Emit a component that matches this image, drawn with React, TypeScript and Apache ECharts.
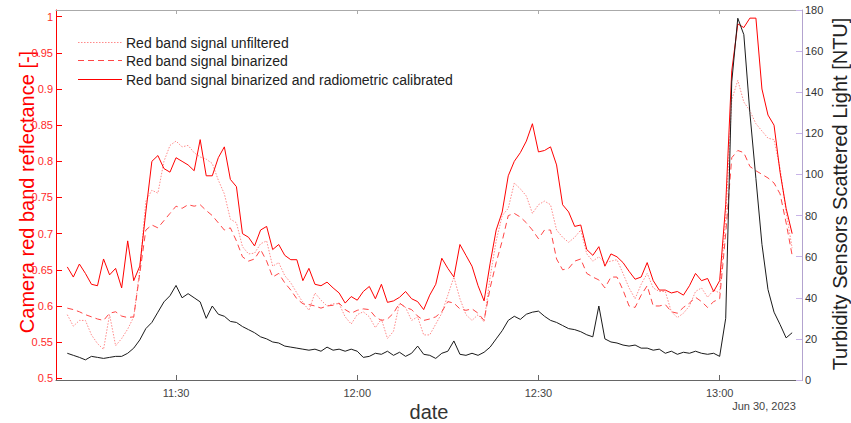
import React, { useEffect, useRef } from "react";
import * as echarts from "echarts";

// x values are minutes after 11:00 (Jun 30, 2023)
const START_MIN = 12; // first sample 11:12
const STEP_MIN = 1;
const X_MIN = 10.13;
const X_MAX = 133.63;

const xTickMinutes = [30, 60, 90, 120];
const xTickLabels = ["11:30", "12:00", "12:30", "13:00"];
const dateLabel = "Jun 30, 2023";

const leftTicks = [0.5, 0.55, 0.6, 0.65, 0.7, 0.75, 0.8, 0.85, 0.9, 0.95, 1];
const LEFT_MIN = 0.49765;
const LEFT_MAX = 1.00925;

const seriesNames = [
  "Red band signal unfiltered",
  "Red band signal binarized",
  "Red band signal binarized and radiometric calibrated",
];
const turbidityName = "Turbidity Sensors Scattered Light [NTU]";

const unfiltered = [
  0.588, 0.572, 0.58, 0.58, 0.56, 0.548, 0.54, 0.588, 0.545, 0.555,
  0.568, 0.585, 0.65, 0.745, 0.76, 0.756, 0.8, 0.822, 0.828, 0.82,
  0.822, 0.812, 0.806, 0.803, 0.797, 0.774, 0.755, 0.72, 0.715, 0.682,
  0.672, 0.673, 0.686, 0.69, 0.655, 0.66, 0.642, 0.632, 0.618, 0.605,
  0.594, 0.618, 0.608, 0.6, 0.603, 0.603, 0.585, 0.575, 0.588, 0.592,
  0.585, 0.57, 0.582, 0.555, 0.565, 0.604, 0.598, 0.58, 0.585, 0.56,
  0.56, 0.575, 0.59, 0.615, 0.64, 0.61, 0.588, 0.58, 0.588, 0.578,
  0.64, 0.69, 0.725, 0.735, 0.77, 0.762, 0.752, 0.728, 0.74, 0.745,
  0.74, 0.705, 0.695, 0.688, 0.695, 0.705, 0.672, 0.662, 0.668, 0.66,
  0.662, 0.664, 0.645, 0.625, 0.61, 0.63, 0.645, 0.625, 0.62, 0.62,
  0.592, 0.584, 0.59, 0.6, 0.62, 0.625, 0.612, 0.622, 0.618, 0.72,
  0.885, 0.912, 0.882, 0.87, 0.852, 0.842, 0.832, 0.83, 0.79, 0.73, 0.68,
];

const binarized = [
  0.597, 0.595, 0.592, 0.588, 0.585, 0.582, 0.58, 0.59, 0.592, 0.586,
  0.584, 0.585, 0.645, 0.705, 0.712, 0.708, 0.718, 0.728, 0.738, 0.735,
  0.74, 0.738, 0.74, 0.732, 0.725, 0.715, 0.705, 0.708, 0.69, 0.668,
  0.662, 0.665, 0.678, 0.662, 0.64, 0.645, 0.632, 0.622, 0.61, 0.603,
  0.602, 0.6, 0.597, 0.6, 0.601, 0.604, 0.595, 0.59, 0.594, 0.596,
  0.595, 0.585, 0.58, 0.582, 0.59, 0.604, 0.598, 0.595, 0.586, 0.58,
  0.582, 0.585, 0.592, 0.606, 0.604, 0.596, 0.594, 0.596, 0.59, 0.58,
  0.625, 0.66, 0.69, 0.725, 0.728, 0.723, 0.715, 0.705, 0.693, 0.705,
  0.705, 0.665, 0.65, 0.652, 0.662, 0.665, 0.645, 0.64, 0.636, 0.625,
  0.64, 0.64, 0.622, 0.6, 0.598, 0.615, 0.628, 0.6, 0.6, 0.602,
  0.592, 0.59, 0.598, 0.604, 0.612, 0.606, 0.598, 0.606, 0.61, 0.7,
  0.805, 0.815, 0.812, 0.793, 0.787, 0.782, 0.777, 0.77, 0.755, 0.715, 0.67,
];

const calibrated = [
  0.654, 0.64, 0.658, 0.645, 0.63, 0.628, 0.665, 0.643, 0.652, 0.625,
  0.69, 0.635, 0.655, 0.73, 0.8, 0.808, 0.79, 0.785, 0.805, 0.8,
  0.795, 0.787, 0.83, 0.78, 0.78, 0.805, 0.82, 0.775, 0.765, 0.7,
  0.695, 0.683, 0.705, 0.71, 0.678, 0.685, 0.67, 0.664, 0.664, 0.635,
  0.652, 0.63, 0.628, 0.633, 0.625, 0.618, 0.604, 0.613, 0.608, 0.62,
  0.627, 0.61, 0.63, 0.605, 0.607, 0.612, 0.62, 0.61, 0.606, 0.595,
  0.615, 0.63, 0.666, 0.652, 0.64, 0.685, 0.67, 0.655, 0.628, 0.607,
  0.659, 0.705, 0.73, 0.78, 0.8, 0.812, 0.828, 0.852, 0.813, 0.815,
  0.82, 0.795, 0.74, 0.73, 0.71, 0.712, 0.678, 0.67, 0.682, 0.655,
  0.672, 0.668, 0.66, 0.648, 0.637, 0.64, 0.66, 0.635, 0.622, 0.622,
  0.618, 0.62, 0.615, 0.628, 0.645, 0.635, 0.638, 0.62, 0.635, 0.74,
  0.925, 0.99, 0.985, 0.998, 0.998, 0.9, 0.864, 0.85, 0.785, 0.735, 0.7,
];

const turbidity = [
  13, 12, 11, 9.8, 11.5, 11, 10.5, 11, 11.5, 11.5,
  13, 15.5, 19.5, 25, 28, 33, 38, 41, 46, 40,
  42, 40, 38, 30, 36, 32, 31, 28.5, 28, 26,
  24.5, 23, 21, 20, 18.5, 18, 16.5, 16, 15.5, 15,
  14.5, 15, 14, 16, 14.5, 15, 14, 15, 14, 11,
  11.5, 13, 12.5, 14, 12, 13.5, 11.5, 13, 16.5, 12.5,
  12, 10.5, 13, 14, 19, 12.5, 12, 13, 12, 13.5,
  16, 20, 24, 29, 31, 29.5, 32, 33, 33.5, 31,
  29, 28, 26.5, 25, 24.5, 23.5, 22, 21, 36, 20,
  18.5, 18, 17, 16.5, 17, 15.5, 15.5, 14.5, 15, 13,
  14, 12.5, 13.5, 13, 14, 13, 12.5, 13, 11.5, 30,
  145, 176, 168, 130, 98, 66, 44, 33, 27, 20.5, 23,
];

const toPairs = (vals: number[]) => vals.map((v, i) => [START_MIN + i * STEP_MIN, v]);

const FONT = "'Liberation Sans', Arial, Helvetica, sans-serif";

const dottedStyle = { color: "#ff8a8a", width: 1, type: [1.5, 1.5] };
const dashedStyle = { color: "#ff4545", width: 1, type: [6, 4] };
const solidStyle = { color: "#ff0000", width: 1, type: "solid" };

export default function App() {
  const ref = useRef<HTMLDivElement>(null);
  useEffect(() => {
    if (!ref.current) return;
    const chart = echarts.init(ref.current, undefined, { renderer: "svg" });
    const fmtX = (v: number) => {
      const idx = xTickMinutes.indexOf(Math.round(v));
      return idx >= 0 ? xTickLabels[idx] : "";
    };
    const lineStyles = [dottedStyle, dashedStyle, solidStyle];
    // legend sample geometry (drawn as filled rectangles so the colours are exact)
    const legendX0 = 78;
    const legendX1 = 122;
    const legendRowsY = [42, 60, 79];
    const legendPatterns: number[][] = [
      [1.5, 1.5],
      [6, 4],
      [44, 0],
    ];
    const legendGraphics: any[] = [];
    seriesNames.forEach((n, i) => {
      const ls = lineStyles[i];
      const [on, off] = legendPatterns[i];
      for (let x = legendX0; x < legendX1; x += on + off) {
        legendGraphics.push({
          type: "rect",
          shape: { x, y: legendRowsY[i], width: Math.min(on, legendX1 - x), height: 1 },
          style: { fill: ls.color },
          silent: true,
        });
      }
      legendGraphics.push({
        type: "text",
        x: 126,
        y: legendRowsY[i] + 0.5,
        style: { text: n, fontSize: 14, fill: "#222", align: "left", verticalAlign: "middle", fontFamily: FONT },
      });
    });
    chart.setOption({
      animation: false,
      backgroundColor: "#ffffff",
      textStyle: { fontFamily: FONT },
      grid: { left: 56, right: 49, top: 10, bottom: 43, containLabel: false },
      xAxis: [
        {
          type: "value",
          position: "bottom",
          min: X_MIN,
          max: X_MAX,
          axisLine: { show: true, lineStyle: { color: "#666", width: 1 } },
          axisTick: { show: true, inside: true, length: 5, customValues: xTickMinutes, lineStyle: { color: "#666" } },
          axisLabel: { show: true, customValues: xTickMinutes, formatter: fmtX, fontSize: 11, color: "#444", margin: 7 },
          splitLine: { show: false },
        },
        {
          type: "value",
          position: "top",
          min: X_MIN,
          max: X_MAX,
          axisLine: { show: true, lineStyle: { color: "#aaa", width: 1 } },
          axisTick: { show: true, inside: true, length: 4, customValues: xTickMinutes, lineStyle: { color: "#aaa" } },
          axisLabel: { show: false },
          splitLine: { show: false },
        },
      ],
      yAxis: [
        {
          type: "value",
          position: "left",
          min: LEFT_MIN,
          max: LEFT_MAX,
          axisLine: { show: true, lineStyle: { color: "#ff0000", width: 1 } },
          axisTick: { show: true, inside: true, length: 6, customValues: leftTicks, lineStyle: { color: "#ff0000" } },
          axisLabel: { show: true, customValues: leftTicks, formatter: (v: number) => String(v), fontSize: 11, color: "#ff2a2a", margin: 3 },
          splitLine: { show: false },
        },
        {
          type: "value",
          position: "right",
          min: 0,
          max: 180,
          interval: 20,
          axisLine: { show: true, lineStyle: { color: "#b3a3cf", width: 1 } },
          axisTick: { show: true, inside: true, length: 6, lineStyle: { color: "#c8b4e8" } },
          axisLabel: { show: true, fontSize: 11, color: "#333", margin: 3 },
          splitLine: { show: false },
        },
      ],
      series: [
        {
          name: seriesNames[0],
          type: "line",
          yAxisIndex: 0,
          data: toPairs(unfiltered),
          symbol: "none",
          lineStyle: dottedStyle,
          itemStyle: { color: dottedStyle.color },
        },
        {
          name: seriesNames[1],
          type: "line",
          yAxisIndex: 0,
          data: toPairs(binarized),
          symbol: "none",
          lineStyle: dashedStyle,
          itemStyle: { color: dashedStyle.color },
        },
        {
          name: seriesNames[2],
          type: "line",
          yAxisIndex: 0,
          data: toPairs(calibrated),
          symbol: "none",
          lineStyle: solidStyle,
          itemStyle: { color: solidStyle.color },
        },
        {
          name: turbidityName,
          type: "line",
          yAxisIndex: 1,
          data: toPairs(turbidity),
          symbol: "none",
          lineStyle: { color: "#1a1a1a", width: 1 },
          itemStyle: { color: "#1a1a1a" },
        },
      ],
      graphic: [
        ...legendGraphics,
        {
          type: "text",
          x: 27,
          y: 192,
          rotation: Math.PI / 2,
          style: { text: "Camera red band reflectance [-]", fontSize: 20, fill: "#ff0000", align: "center", verticalAlign: "middle", fontFamily: FONT },
        },
        {
          type: "text",
          x: 840,
          y: 194,
          rotation: Math.PI / 2,
          style: { text: turbidityName, fontSize: 20, fill: "#222", align: "center", verticalAlign: "middle", fontFamily: FONT },
        },
        {
          type: "text",
          x: 429,
          y: 412,
          style: { text: "date", fontSize: 20, fill: "#333", align: "center", verticalAlign: "middle", fontFamily: FONT },
        },
        {
          type: "text",
          x: 764,
          y: 406,
          style: { text: dateLabel, fontSize: 11, fill: "#444", align: "center", verticalAlign: "middle", fontFamily: FONT },
        },
      ],
    });
    return () => chart.dispose();
  }, []);
  return <div ref={ref} style={{ width: 851, height: 423, position: "absolute", left: 0, top: 0 }} />;
}
